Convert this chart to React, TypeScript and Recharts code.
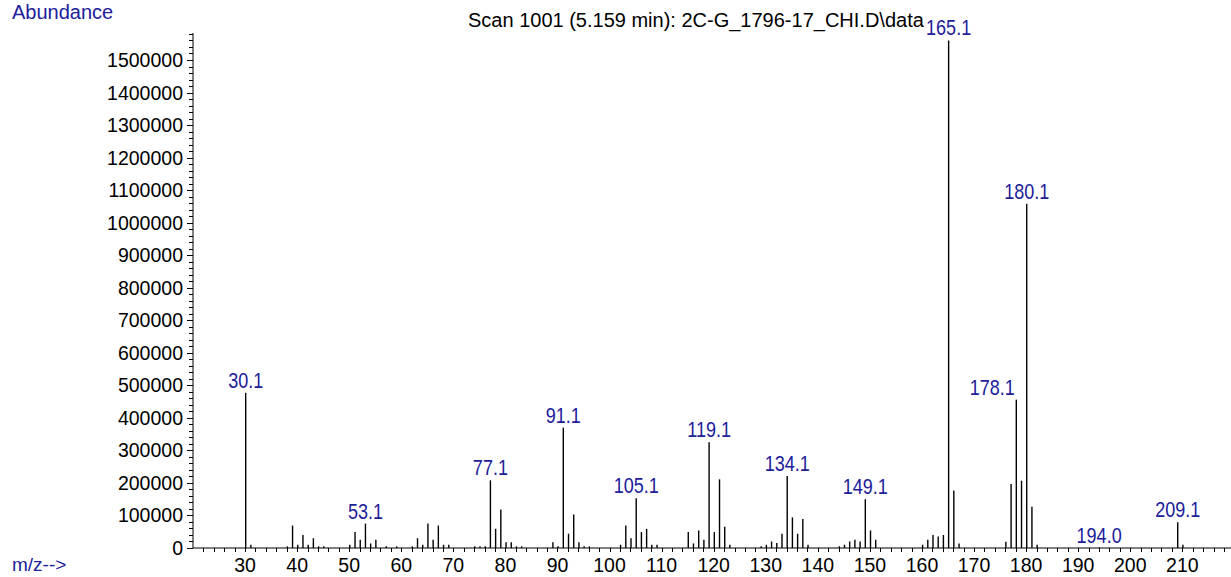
import React from 'react';
import { BarChart, Bar, XAxis, YAxis, LabelList } from 'recharts';

// m/z of every peak in the scan
const MZ = [
  30.1, 31.1, 38.1, 39.1, 40.1, 41.1, 42.1, 43.1, 44.1, 45.1,
  50.1, 51.1, 52.1, 53.1, 54.1, 55.1, 57.1, 59.1,
  62.1, 63.1, 64.1, 65.1, 66.1, 67.1, 68.1, 69.1,
  74.1, 75.1, 76.1, 77.1, 78.1, 79.1, 80.1, 81.1, 82.1, 83.1,
  89.1, 90.1, 91.1, 92.1, 93.1, 94.1, 95.1, 96.1,
  102.1, 103.1, 104.1, 105.1, 106.1, 107.1, 108.1, 109.1,
  115.1, 116.1, 117.1, 118.1, 119.1, 120.1, 121.1, 122.1, 123.1,
  129.1, 130.1, 131.1, 132.1, 133.1, 134.1, 135.1, 136.1, 137.1, 138.1,
  144.1, 145.1, 146.1, 147.1, 148.1, 149.1, 150.1, 151.1,
  160.1, 161.1, 162.1, 163.1, 164.1, 165.1, 166.1, 167.1,
  176.1, 177.1, 178.1, 179.1, 180.1, 181.1, 182.1,
  194.0, 209.1, 210.1,
];

// abundance of each peak, same order as MZ
const ABUNDANCE = [
  477000, 10000, 5000, 69000, 10000, 40000, 10000, 30000, 5000, 5000,
  10000, 49000, 25000, 75000, 14000, 25000, 5000, 5000,
  5000, 30000, 10000, 75000, 25000, 69000, 10000, 10000,
  5000, 5000, 5000, 208000, 59000, 118000, 18000, 18000, 5000, 5000,
  18000, 5000, 370000, 44000, 103000, 18000, 5000, 5000,
  10000, 69000, 30000, 153000, 49000, 59000, 10000, 10000,
  49000, 14000, 54000, 25000, 325000, 49000, 211000, 65000, 10000,
  5000, 10000, 20000, 15000, 44000, 221000, 94000, 44000, 89000, 10000,
  5000, 10000, 20000, 25000, 20000, 150000, 54000, 25000,
  10000, 25000, 40000, 35000, 40000, 1560000, 177000, 14000,
  19000, 197000, 456000, 207000, 1058000, 127000, 10000,
  1500, 79000, 10000,
];

// peaks that carry an m/z label
const LABELED = [30.1, 53.1, 77.1, 91.1, 105.1, 119.1, 134.1, 149.1, 165.1, 178.1, 180.1, 194.0, 209.1];

const X_TICKS = Array.from({ length: 99 }, (_, i) => 22 + i * 2);
const Y_TICKS = Array.from({ length: 80 }, (_, i) => i * 20000);

const TITLE = 'Scan 1001 (5.159 min): 2C-G_1796-17_CHI.D\\data';
const BLUE = '#20209a';
const LABEL_SHIFT: Record<string, number> = { '178.1': -24 };

const data = MZ.map((mz, i) => ({
  mz,
  abundance: ABUNDANCE[i],
  label: LABELED.includes(mz) ? mz.toFixed(1) : undefined,
}));

const YTick = (props: any) => {
  const { x, y, payload } = props;
  const v = payload.value;
  const major = v % 100000 === 0;
  const yy = Math.round(y) + 0.5;
  return (
    <g>
      <line x1={x} x2={x - (major ? 6 : 4)} y1={yy} y2={yy} stroke="#000" />
      {major && (
        <text x={x - 10} y={y + 7} textAnchor="end" fontSize={19.5} fill="#000">
          {v}
        </text>
      )}
    </g>
  );
};

const XTick = (props: any) => {
  const { x, y, payload } = props;
  const v = payload.value;
  const xx = Math.round(x) + 0.5;
  return (
    <g>
      <line x1={xx} x2={xx} y1={y} y2={y + 4} stroke="#000" />
      {v % 10 === 0 && (
        <text x={x} y={y + 24} textAnchor="middle" fontSize={19.5} fill="#000">
          {v}
        </text>
      )}
    </g>
  );
};

// narrow blue peak label, on a white patch so it hides what lies behind it
const PeakLabel = (props: any) => {
  const { x, y, width, value } = props;
  if (!value) return null;
  const cx = x + width / 2 + (LABEL_SHIFT[value] || 0);
  const base = y - 5;
  const w = value.length * 9;
  return (
    <g>
      <rect x={cx - w / 2 - 2} y={base - 20} width={w + 4} height={24} fill="#fff" />
      <text
        transform={`translate(${cx},${base}) scale(0.82,1)`}
        textAnchor="middle"
        fontSize={22}
        fill={BLUE}
      >
        {value}
      </text>
    </g>
  );
};

export default function App() {
  return (
    <div
      style={{
        position: 'fixed',
        left: 0,
        top: 0,
        width: 1231,
        height: 577,
        overflow: 'hidden',
        background: '#fff',
        fontFamily: "'Liberation Sans', Arial, sans-serif",
      }}
    >
      <svg width={1231} height={577} style={{ position: 'absolute', left: 0, top: 0 }}>
        <text x={12} y={19} fontSize={20} fill={BLUE}>Abundance</text>
        <text x={468} y={26.5} fontSize={20} fill="#000">{TITLE}</text>
        <text x={12} y={571} fontSize={19} fill={BLUE}>{'m/z-->'}</text>
      </svg>
      <div style={{ position: 'absolute', left: 0, top: 0 }}>
        <BarChart width={1231} height={577} data={data} margin={{ top: 33, right: 0, left: 0, bottom: 0 }}>
          <XAxis
            dataKey="mz"
            type="number"
            domain={[20, 219.35]}
            allowDataOverflow
            ticks={X_TICKS}
            interval={0}
            height={29}
            tickSize={0}
            tickMargin={0}
            tickLine={false}
            axisLine={{ stroke: '#000' }}
            tick={<XTick />}
          />
          <YAxis
            type="number"
            domain={[0, 1583000]}
            allowDataOverflow
            ticks={Y_TICKS}
            interval={0}
            width={193}
            tickSize={0}
            tickMargin={0}
            tickLine={false}
            axisLine={{ stroke: '#000' }}
            tick={<YTick />}
          />
          <Bar dataKey="abundance" fill="#000" barSize={1.4} isAnimationActive={false}>
            <LabelList dataKey="label" content={<PeakLabel />} />
          </Bar>
        </BarChart>
      </div>
    </div>
  );
}
